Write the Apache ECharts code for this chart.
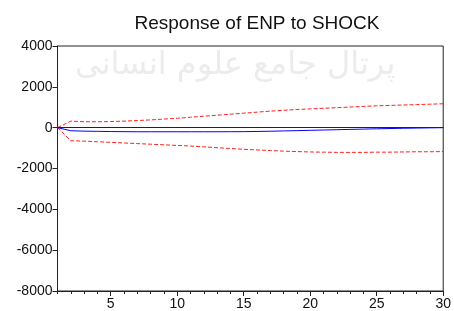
<!DOCTYPE html>
<html>
<head>
<meta charset="utf-8">
<script src="https://cdn.jsdelivr.net/npm/echarts@6/dist/echarts.min.js"></script>
<style>
  html, body { margin: 0; padding: 0; background: #fff; }
  #chart { width: 454px; height: 311px; }
</style>
</head>
<body>
<div id="chart"></div>
<script>
// periods 1..30
var periods = [];
for (var p = 1; p <= 30; p++) periods.push(p);

// impulse response (blue) and +/- 2 s.e. bands (red dashed)
var response = [0, -150, -170, -180, -190, -195, -200, -200, -200, -200,
  -200, -200, -200, -198, -195, -185, -175, -160, -145, -130,
  -115, -100, -85, -70, -55, -42, -30, -20, -10, 0];
var upperBand = [0, 320, 290, 290, 300, 320, 350, 380, 420, 460,
  510, 560, 610, 660, 710, 760, 810, 850, 890, 920,
  950, 980, 1010, 1040, 1070, 1090, 1110, 1130, 1150, 1170];
var lowerBand = [0, -640, -660, -690, -720, -750, -780, -810, -840, -870,
  -900, -940, -980, -1020, -1060, -1090, -1120, -1150, -1170, -1190,
  -1200, -1210, -1210, -1210, -1200, -1200, -1190, -1180, -1180, -1170];

var xLabels = [5, 10, 15, 20, 25, 30];
var yMin = -8000, yMax = 4000, yStep = 2000;

function pairs(vals) {
  return periods.map(function (x, i) { return [x, vals[i]]; });
}

var font = "'Liberation Sans', Arial, sans-serif";
var chart = echarts.init(document.getElementById("chart"));

chart.setOption({
  animation: false,
  backgroundColor: "#fff",
  title: {
    text: "Response of ENP to SHOCK",
    left: 252,
    textAlign: "center",
    top: 9,
    textStyle: { fontFamily: font, fontSize: 19, fontWeight: "normal", color: "#111" }
  },
  // faint watermark of the source site
  graphic: [{
    type: "text",
    left: 75,
    top: 50,
    z: -1,
    silent: true,
    style: { text: "پرتال جامع علوم انسانی", font: "32px 'DejaVu Sans'", fill: "#ececec" }
  }],
  grid: {
    left: 57.5, right: 9, top: 46, bottom: 18.5,
    show: true, borderColor: "#222", borderWidth: 1, backgroundColor: "transparent"
  },
  xAxis: [{
    type: "value", min: 1, max: 30,
    axisLine: { onZero: false, lineStyle: { color: "#222", width: 1 } },
    axisTick: { customValues: periods, length: 3, lineStyle: { color: "#222" } },
    axisLabel: { customValues: xLabels, fontFamily: font, fontSize: 14, color: "#111", margin: 6 },
    splitLine: { show: false }
  }, {
    type: "value", min: 1, max: 30, position: "bottom",
    axisLine: { show: false, onZero: false },
    axisTick: { customValues: xLabels, length: 5, lineStyle: { color: "#222" } },
    axisLabel: { show: false },
    splitLine: { show: false }
  }],
  yAxis: {
    type: "value", min: yMin, max: yMax, interval: yStep,
    axisLine: { show: true, lineStyle: { color: "#222", width: 1 } },
    axisTick: { show: true, length: 5, lineStyle: { color: "#222" } },
    axisLabel: {
      fontFamily: font, fontSize: 14, color: "#111", margin: 5,
      formatter: function (v) { return String(v); }
    },
    splitLine: { show: false }
  },
  series: [{
    name: "upper",
    type: "line",
    data: pairs(upperBand),
    symbol: "none",
    lineStyle: { color: "#ff2020", width: 1, type: [4, 2] }
  }, {
    name: "lower",
    type: "line",
    data: pairs(lowerBand),
    symbol: "none",
    lineStyle: { color: "#ff2020", width: 1, type: [4, 2] }
  }, {
    name: "response",
    type: "line",
    data: pairs(response),
    symbol: "none",
    z: 3,
    lineStyle: { color: "#0000ff", width: 1 },
    markLine: {
      silent: true,
      symbol: "none",
      label: { show: false },
      lineStyle: { color: "#222", width: 1, type: "solid" },
      data: [{ yAxis: 0 }]
    }
  }]
});
</script>
</body>
</html>
